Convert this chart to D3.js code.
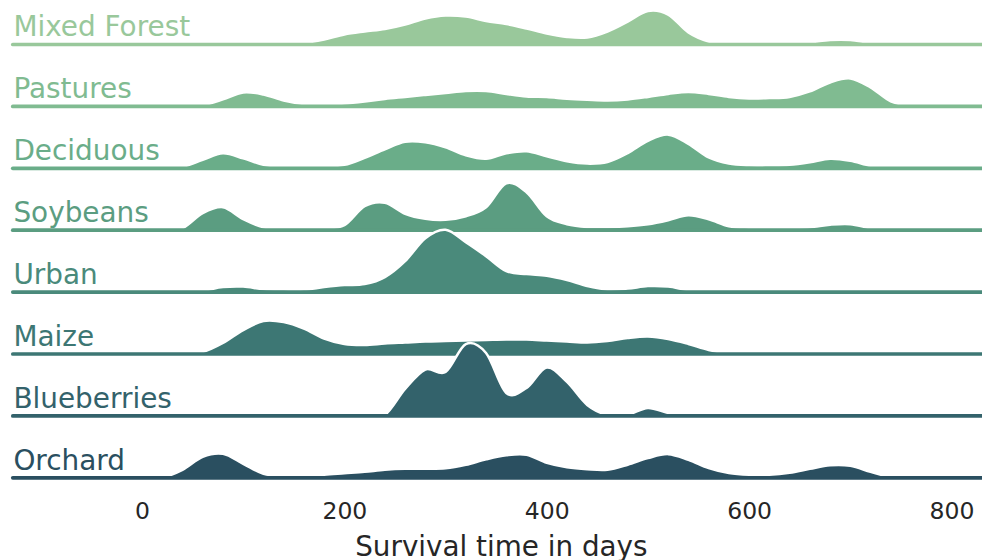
<!DOCTYPE html>
<html>
<head>
<meta charset="utf-8">
<script src="https://cdn.jsdelivr.net/npm/d3@7"></script>
<style>
  html, body { margin: 0; padding: 0; background: #ffffff; }
  svg { display: block; }
</style>
</head>
<body>
<svg id="chart" width="982" height="560"></svg>
<script>
// Ridgeline of survival-time densities per land-cover class
const categories = ["Mixed Forest", "Pastures", "Deciduous", "Soybeans", "Urban", "Maize", "Blueberries", "Orchard"];
const colors = ["#99c89b", "#80bb91", "#6aad89", "#5b9d81", "#4a8a7b", "#3d7774", "#33626b", "#2a4f60"];

// Evaluation grid (days) shared by every density curve
const days = [0, 20, 40, 60, 80, 100, 120, 140, 160, 180, 200, 220, 240, 260, 280, 300, 320, 340, 360, 380,
              400, 420, 440, 460, 480, 500, 520, 540, 560, 580, 600, 620, 640, 660, 680, 700, 720, 740, 760, 780];

// Relative kernel density estimates on the grid above
const mixedForest = [0, 0, 0, 0.5, 1, 2.5, 1.5, 1, 1.5, 5, 10, 13, 15.5, 20, 26, 29, 28, 23.5, 20.5, 16,
                     11, 7.5, 7, 13, 23, 33.5, 30, 12, 3, 1, 0.5, 0.5, 0.5, 2, 4.5, 4.5, 1.5, 0, 0, 0];
const pastures    = [0, 0, 0, 1, 7, 14, 12, 6, 2.5, 2, 3, 5, 7.5, 9.5, 11.5, 13.5, 15.5, 15.5, 12.5, 10,
                     9.3, 7.7, 6.7, 6, 7, 9.5, 12.5, 14.5, 12.5, 9.5, 8, 8.3, 9.5, 15, 24, 28, 19, 5, 0.5, 0];
const deciduous   = [0, 0, 1.5, 8.5, 15, 10, 3.5, 2, 2, 2, 3.5, 10.5, 19, 26.5, 26, 21, 13, 9.5, 15, 17,
                     12, 7, 4.7, 6.3, 15.3, 27.5, 33.7, 24.5, 11, 4.7, 3, 3, 3.5, 6, 9.5, 7.5, 2.5, 0.5, 0, 0];
const soybeans    = [0, 0, 2, 17, 23, 11, 3, 2, 2, 2, 5, 24, 27.5, 16.5, 11.5, 10.5, 14, 23, 47, 38,
                     14, 6, 3.3, 3.3, 4, 6, 10, 15, 11, 4, 2.5, 2.5, 2.5, 3, 5.5, 6, 2, 0, 0, 0];
const urban       = [0, 0, 0, 1.5, 5, 5.5, 3, 2.5, 2.5, 5, 7, 8, 15, 31, 54, 62.5, 50, 36, 21, 18,
                     16.3, 12, 6, 2.7, 3.5, 6, 5.5, 2, 0.5, 0, 0, 0, 0, 0, 0, 0, 0, 0, 0, 0];
const maize       = [0, 0, 0, 2, 11, 24, 33, 32, 25.5, 15.5, 10, 9, 10.5, 11.5, 12.5, 13, 13.5, 14, 14.5, 14.5,
                     13.5, 12.5, 11.5, 13, 16, 17.5, 15, 10, 4, 0.5, 0, 0, 0, 0, 0, 0, 0, 0, 0, 0];
const blueberries = [0, 0, 0, 0, 0, 0, 0, 0, 0, 0, 0, 0, 1, 27, 46.5, 44, 72, 63, 23, 28,
                     48.5, 34, 11, 1, 1.5, 8, 3, 0.5, 0, 0, 0, 0, 0, 0, 0, 0, 0, 0, 0, 0];
const orchard     = [0, 0.5, 8, 21, 24, 14, 4, 2, 2, 3, 4.5, 6, 8, 9, 9, 9.5, 13, 18.5, 22.5, 23,
                     15, 10.5, 8.5, 8, 13, 19.7, 23.7, 18, 9.7, 4.7, 3, 3, 5, 9, 12.5, 12, 6, 0.5, 0, 0];

const densities = [mixedForest, pastures, deciduous, soybeans, urban, maize, blueberries, orchard];

const tickValues = [0, 200, 400, 600, 800];
const xLimits = [-127.7, 838];
const axisTitle = "Survival time in days";

const FONT = "DejaVu Sans, Verdana, sans-serif";
const TEXT_COLOR = "#262626";

const svg = d3.select("#chart");

const x = d3.scaleLinear().domain([0, 800]).range([142, 951.5]);
const row = d3.scalePoint().domain(categories).range([44.5, 477.8]);
const rowStep = row.step();
// shared density scale: every ridge uses the same height per density unit
const y = d3.scaleLinear().domain([0, 62]).range([0, rowStep]);

const curve = d3.curveCardinal.tension(0);

categories.forEach((cat, i) => {
  const base = row(cat);
  const pts = days.map((d, j) => [d, densities[i][j]]);
  const g = svg.append("g").attr("class", "ridge");

  const area = d3.area()
    .x(p => x(p[0]))
    .y0(base)
    .y1(p => base - y(p[1]))
    .curve(curve);
  const outline = d3.line()
    .x(p => x(p[0]))
    .y(p => base - y(p[1]))
    .curve(curve);

  g.append("path")
    .attr("d", area(pts))
    .attr("fill", colors[i]);

  g.append("path")
    .attr("d", outline(pts))
    .attr("fill", "none")
    .attr("stroke", "#ffffff")
    .attr("stroke-width", 2.5)
    .attr("stroke-linejoin", "round");

  g.append("line")
    .attr("x1", x(xLimits[0]))
    .attr("x2", x(xLimits[1]))
    .attr("y1", base)
    .attr("y2", base)
    .attr("stroke", colors[i])
    .attr("stroke-width", 3.7)
    .attr("stroke-linecap", "round");

  g.append("text")
    .attr("x", x(xLimits[0]) + 0.6)
    .attr("y", base - 8.3)
    .attr("fill", colors[i])
    .attr("font-family", FONT)
    .attr("font-size", 27.9)
    .text(cat);
});

// bottom axis: labels only, no spine or tick marks
const tickFont = 23.5;
const axis = d3.axisBottom(x)
  .tickValues(tickValues)
  .tickFormat(d3.format("d"))
  .tickSize(0)
  .tickPadding(0);

const axisG = svg.append("g")
  .attr("transform", `translate(0, ${519 - 0.71 * tickFont})`)
  .call(axis);
axisG.select(".domain").remove();
axisG.selectAll("text")
  .attr("fill", TEXT_COLOR)
  .attr("font-family", FONT)
  .attr("font-size", tickFont);

svg.append("text")
  .attr("x", (x(xLimits[0]) + x(xLimits[1])) / 2)
  .attr("y", 556)
  .attr("text-anchor", "middle")
  .attr("fill", TEXT_COLOR)
  .attr("font-family", FONT)
  .attr("font-size", 27.8)
  .text(axisTitle);
</script>
</body>
</html>
